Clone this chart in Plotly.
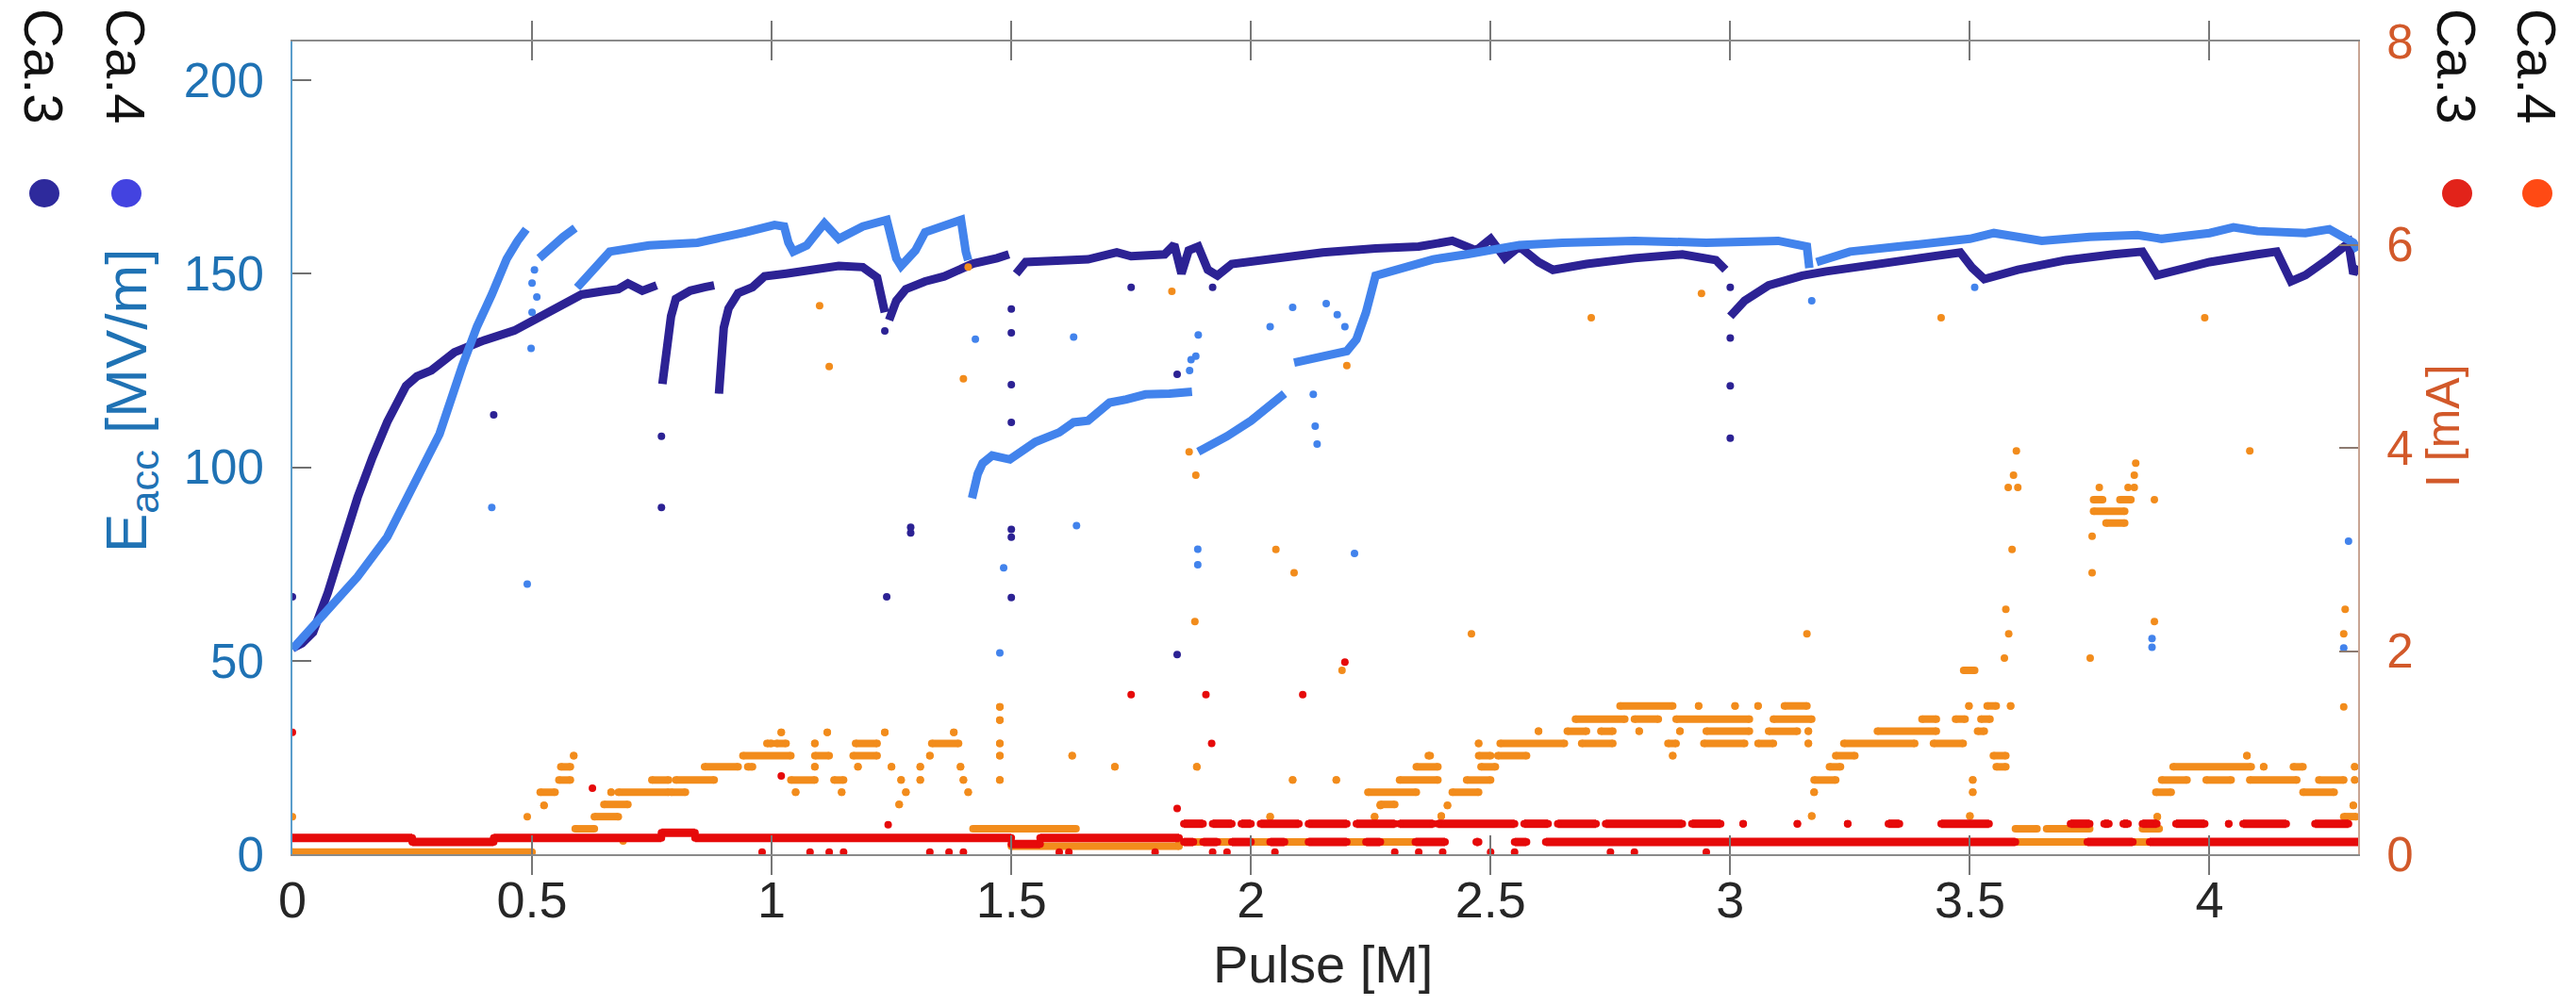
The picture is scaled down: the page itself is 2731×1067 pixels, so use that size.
import plotly.graph_objects as go

FONT = "Liberation Sans, Arial, sans-serif"
NARROW = "Liberation Sans Narrow, Arial Narrow, Liberation Sans, sans-serif"

# ---------------- axes ----------------
x_ticks = [0, 0.5, 1, 1.5, 2, 2.5, 3, 3.5, 4]
x_labels = ["0", "0.5", "1", "1.5", "2", "2.5", "3", "3.5", "4"]
e_ticks = [0, 50, 100, 150, 200]
i_ticks = [0, 2, 4, 6, 8]

# ---------------- Ca.3 E_acc [MV/m] (dark) : dense runs, None = break ----------------
e3_x = [0, 0.02, 0.043, 0.074, 0.105, 0.136, 0.167, 0.198, 0.237, 0.26, 0.29, 0.338, 0.40, 0.463, 0.525, 0.56, 0.603, 0.65, 0.68, 0.70, 0.73, 0.76, None,
        0.772, 0.78, 0.79, 0.80, 0.83, 0.86, 0.88, None,
        0.89, 0.895, 0.90, 0.91, 0.93, 0.96, 0.985, 1.03, 1.088, 1.14, 1.19, 1.22, 1.236, None,
        1.245, 1.26, 1.28, 1.32, 1.36, 1.42, 1.47, 1.495, None,
        1.51, 1.53, 1.66, 1.72, 1.75, 1.82, 1.84, 1.855, 1.87, 1.89, 1.91, 1.93, 1.96, 2.05, 2.15, 2.26, 2.35, 2.42, 2.47, 2.5, 2.53, 2.56, 2.6, 2.63, 2.7, 2.8, 2.9, 2.97, 2.99, None,
        3.0, 3.03, 3.08, 3.15, 3.2, 3.3, 3.4, 3.48, 3.505, 3.53, 3.6, 3.7, 3.8, 3.86, 3.89, 3.92, 4.0, 4.1, 4.14, 4.17, 4.2, 4.25, 4.29, 4.3, 4.31]
e3_y = [53.2, 54.5, 57.3, 67.6, 80, 92.2, 102.5, 111.7, 121, 123.5, 125, 129.7, 132.8, 135.3, 139.4, 141.5, 144.6, 145.5, 146, 147.5, 145.6, 147, None,
        121.5, 131, 139, 143.5, 145.6, 146.5, 147, None,
        119, 127, 136, 141, 145, 146.5, 149.3, 150, 151, 152, 151.7, 149, 140, None,
        138, 143, 146, 148, 149.3, 152.6, 154, 155, None,
        150, 153, 153.7, 155.5, 154.5, 155, 157.5, 150, 156, 157, 151, 149.5, 152.5, 154, 155.5, 156.5, 157, 158.5, 156, 159, 154, 157, 153, 151, 152.5, 154, 155, 153.5, 151, None,
        139, 143, 147, 149.5, 150.6, 152.5, 154, 155.5, 151.5, 148.6, 151, 153.5, 155, 155.7, 149.6, 150.6, 153, 155, 155.7, 148, 149.6, 154, 157.9, 150, 152]
# isolated Ca.3 points
e3o_x = [0, 0.42, 0.77, 0.77, 1.236, 1.24, 1.29, 1.29, 1.5, 1.5, 1.5, 1.5, 1.5, 1.5, 1.5, 1.75, 1.846, 1.846, 1.92, 3.0, 3.0, 3.0, 3.0]
e3o_y = [66.5, 113.5, 108, 89.6, 135.2, 66.5, 83, 84.5, 140.9, 134.7, 121.3, 111.6, 83.9, 81.9, 66.3, 146.5, 124, 51.6, 146.5, 146.5, 133.4, 121, 107.5]

# ---------------- Ca.4 E_acc [MV/m] (light) ----------------
e4_x = [0, 0.074, 0.136, 0.198, 0.245, 0.307, 0.354, 0.385, 0.416, 0.447, 0.47, 0.488, None,
        0.515, 0.54, 0.565, 0.59, None,
        0.594, 0.62, 0.644, 0.662, 0.744, 0.845, 0.945, 1.006, 1.026, 1.035, 1.045, 1.073, 1.10, 1.11, 1.14, 1.19, 1.24, 1.25, 1.26, 1.27, 1.30, 1.32, 1.38, 1.395, 1.405, 1.41, None,
        1.418, 1.425, 1.43, 1.44, 1.46, 1.497, 1.55, 1.6, 1.63, 1.66, 1.705, 1.74, 1.78, 1.83, 1.877, None,
        1.89, 1.95, 2.0, 2.05, 2.07, None,
        2.09, 2.15, 2.2, 2.22, 2.24, 2.26, 2.3, 2.38, 2.45, 2.56, 2.65, 2.8, 2.95, 3.1, 3.16, 3.165, None,
        3.18, 3.25, 3.35, 3.45, 3.5, 3.55, 3.65, 3.75, 3.85, 3.9, 4.0, 4.05, 4.1, 4.2, 4.25, 4.3, 4.31]
e4_y = [53, 63.5, 71.7, 82, 93.2, 108.6, 126, 136.3, 144.6, 153.8, 158.5, 161.5, None,
        154, 157, 159.5, 161.8, None,
        146.4, 150, 154, 155.7, 157.3, 158, 160.7, 162.6, 162.2, 158, 155.7, 157.3, 161.5, 163, 159, 162.2, 163.9, 159, 154, 152, 156, 160.7, 163.5, 163.9, 155.7, 153.5, None,
        92, 95.5, 98.3, 101, 103, 102, 106.5, 109, 111.6, 112, 116.7, 117.5, 118.8, 119, 119.5, None,
        104, 108, 112, 116.7, 119, None,
        127, 128.5, 130, 133, 140, 149.5, 151, 153.7, 155, 157.4, 158, 158.5, 158, 158.5, 157, 151.5, None,
        153, 155.7, 157, 158, 159, 160.5, 158.5, 159.5, 160, 159, 160.5, 162, 161, 160.5, 161.5, 158, 156]
e4o_x = [0.416, 0.49, 0.498, 0.50, 0.50, 0.505, 0.51, 1.425, 1.476, 1.484, 1.63, 1.636, 1.872, 1.875, 1.885, 1.89, 1.889, 1.889,
         2.04, 2.087, 2.134, 2.138, 2.13, 2.157, 2.18, 2.196, 2.216, 3.17, 3.51, 3.88, 3.88, 4.28, 4.29]
e4o_y = [89.6, 69.8, 130.7, 147.6, 140, 151, 144, 133.1, 52, 74, 133.6, 84.9, 125, 127.8, 128.7, 134.2, 78.8, 74.8,
         136.3, 141.3, 110.6, 106, 118.8, 142.3, 139.4, 136.3, 77.7, 143, 146.5, 55.7, 53.5, 53.3, 80.9]

# ---------------- Ca.3 current I [mA] (red): runs (x_start, x_end, level) ----------------
i3_runs = [(0, 0.25, 0.16), (0.25, 0.42, 0.12), (0.42, 0.77, 0.16), (0.77, 0.84, 0.21), (0.84, 1.5, 0.16), (1.5, 1.56, 0.10), (1.56, 1.85, 0.16),
           (1.86, 1.88, 0.12), (1.9, 1.93, 0.12), (1.96, 2.0, 0.12), (2.04, 2.07, 0.12), (2.12, 2.2, 0.12), (2.24, 2.27, 0.12),
           (2.343, 2.405, 0.12), (2.47, 2.475, 0.12), (2.55, 2.575, 0.12), (2.615, 3.595, 0.12), (3.745, 3.84, 0.12), (3.875, 4.31, 0.12),
           (1.86, 1.9, 0.3), (1.92, 1.96, 0.3), (1.98, 2.0, 0.3), (2.02, 2.1, 0.3), (2.12, 2.2, 0.3), (2.22, 2.3, 0.3), (2.31, 2.38, 0.3),
           (2.39, 2.55, 0.3), (2.57, 2.62, 0.3), (2.64, 2.72, 0.3), (2.74, 2.9, 0.3), (2.92, 2.98, 0.3), (3.027, 3.027, 0.3),
           (3.14, 3.14, 0.3), (3.245, 3.245, 0.3), (3.33, 3.353, 0.3), (3.44, 3.54, 0.3), (3.71, 3.75, 0.3), (3.78, 3.79, 0.3),
           (3.82, 3.83, 0.3), (3.86, 3.89, 0.3), (3.93, 3.99, 0.3), (4.04, 4.04, 0.3), (4.07, 4.16, 0.3), (4.22, 4.29, 0.3)]
i3o_x = [0, 0.626, 1.02, 1.243, 1.75, 1.906, 2.108, 2.196, 1.918, 1.846,
         0.98, 1.08, 1.12, 1.15, 1.33, 1.37, 1.4, 1.6, 1.62, 1.8, 1.92, 1.95, 2.05, 2.3, 2.35, 2.4, 2.5, 2.55, 2.75, 2.8, 2.95]
i3o_y = [1.2, 0.65, 0.77, 0.29, 1.57, 1.57, 1.57, 1.89, 1.09, 0.45,
         0.02, 0.02, 0.02, 0.02, 0.02, 0.02, 0.02, 0.02, 0.02, 0.02, 0.02, 0.02, 0.02, 0.02, 0.02, 0.02, 0.02, 0.02, 0.02, 0.02, 0.02]

# ---------------- Ca.4 current I [mA] (orange): runs (x_start, x_end, level) ----------------
i4_runs = [(0.0, 0.5, 0.02),
           (0.517, 0.548, 0.61), (0.525, 0.525, 0.48), (0.556, 0.58, 0.73), (0.56, 0.58, 0.86), (0.587, 0.587, 0.97),
           (0.59, 0.63, 0.25), (0.63, 0.68, 0.37), (0.65, 0.70, 0.49), (0.665, 0.665, 0.61), (0.68, 0.785, 0.61), (0.79, 0.82, 0.61),
           (0.75, 0.785, 0.73), (0.8, 0.88, 0.73), (0.86, 0.93, 0.86), (0.95, 0.96, 0.86), (0.94, 1.04, 0.97), (0.99, 1.0, 1.09),
           (1.01, 1.03, 1.09), (1.02, 1.02, 1.2), (1.04, 1.09, 0.73), (1.05, 1.05, 0.61), (1.09, 1.12, 0.97), (1.09, 1.09, 1.09),
           (1.116, 1.116, 1.2), (1.09, 1.09, 0.86), (1.13, 1.15, 0.73), (1.146, 1.146, 0.61), (1.175, 1.22, 1.09), (1.17, 1.22, 0.97),
           (1.18, 1.18, 0.86), (1.236, 1.236, 1.2), (1.25, 1.25, 0.86), (1.27, 1.27, 0.73), (1.31, 1.31, 0.73), (1.28, 1.28, 0.61),
           (1.266, 1.266, 0.49), (1.31, 1.31, 0.86), (1.33, 1.33, 0.97), (1.334, 1.39, 1.09), (1.38, 1.38, 1.2), (1.394, 1.394, 0.86),
           (1.40, 1.40, 0.73), (1.41, 1.41, 0.61),
           (1.476, 1.476, 1.45), (1.476, 1.476, 1.32), (1.476, 1.476, 1.09), (1.476, 1.476, 0.97), (1.476, 1.476, 0.73),
           (1.42, 1.635, 0.25), (1.5, 1.85, 0.08), (1.85, 2.34, 0.12),
           (1.627, 1.627, 0.97), (1.716, 1.716, 0.86), (1.887, 1.887, 0.86), (2.087, 2.087, 0.73), (2.178, 2.178, 0.73),
           (2.04, 2.04, 0.37), (2.258, 2.258, 0.37), (2.27, 2.27, 0.48),
           (2.244, 2.345, 0.61), (2.27, 2.3, 0.49), (2.31, 2.39, 0.73), (2.345, 2.39, 0.86), (2.37, 2.374, 0.97),
           (2.397, 2.397, 0.375), (2.41, 2.41, 0.48), (2.42, 2.475, 0.61), (2.45, 2.5, 0.73), (2.48, 2.51, 0.86), (2.475, 2.5, 0.97),
           (2.515, 2.575, 0.97), (2.475, 2.475, 1.09), (2.52, 2.654, 1.09), (2.6, 2.6, 1.21), (2.66, 2.7, 1.21), (2.69, 2.755, 1.09),
           (2.677, 2.78, 1.33), (2.73, 2.755, 1.21), (2.77, 2.88, 1.46), (2.8, 2.85, 1.33), (2.81, 2.81, 1.21), (2.87, 2.887, 1.09),
           (2.88, 2.88, 0.97), (2.887, 3.04, 1.33), (2.895, 2.895, 1.21), (2.95, 3.04, 1.21), (2.934, 2.934, 1.46), (3.01, 3.01, 1.46),
           (3.058, 3.058, 1.46), (2.945, 3.03, 1.09), (3.058, 3.09, 1.09), (3.09, 3.17, 1.33), (3.08, 3.14, 1.21), (3.113, 3.16, 1.46),
           (3.163, 3.163, 1.09), (3.163, 3.163, 1.21),
           (3.17, 3.17, 0.375), (3.175, 3.175, 0.61), (3.175, 3.22, 0.73), (3.207, 3.23, 0.86), (3.22, 3.26, 0.97), (3.237, 3.385, 1.09),
           (3.307, 3.43, 1.21), (3.4, 3.43, 1.33), (3.424, 3.486, 1.09), (3.47, 3.49, 1.33), (3.498, 3.498, 1.46), (3.506, 3.506, 0.73),
           (3.506, 3.506, 0.61), (3.5, 3.5, 0.375), (3.516, 3.53, 1.21), (3.523, 3.542, 1.33), (3.536, 3.555, 1.46), (3.549, 3.575, 0.97),
           (3.555, 3.575, 0.86), (3.585, 3.585, 1.46), (3.487, 3.51, 1.81),
           (3.595, 3.64, 0.25), (3.66, 3.75, 0.25), (3.86, 3.895, 0.25), (3.891, 3.891, 0.37), (3.595, 3.745, 0.12), (3.84, 3.875, 0.12),
           (3.888, 3.92, 0.61), (3.9, 3.953, 0.73), (3.924, 4.087, 0.86), (3.993, 4.045, 0.73), (4.084, 4.182, 0.73), (4.078, 4.078, 0.97),
           (4.113, 4.113, 0.86), (4.175, 4.195, 0.86), (4.195, 4.26, 0.61), (4.228, 4.28, 0.73), (4.303, 4.303, 0.86), (4.303, 4.303, 0.73),
           (4.3, 4.3, 0.48), (4.28, 4.306, 0.37),
           (3.758, 3.823, 3.375), (3.784, 3.823, 3.26), (3.758, 3.777, 3.49), (3.813, 3.836, 3.49)]
i4o_x = [0, 0.49, 1.10, 1.12, 1.41, 1.40, 1.835, 1.871, 1.885, 1.883, 2.052, 2.09, 2.2, 2.19, 2.46, 3.16, 2.71, 2.94, 3.44, 3.99,
         4.084, 3.597, 3.591, 3.58, 3.6, 3.588, 3.575, 3.581, 3.572, 3.77, 3.755, 3.846, 3.843, 3.83, 3.843, 3.755, 3.751,
         3.885, 3.885, 4.283, 4.28, 4.28, 0.69]
i4o_y = [0.37, 0.37, 5.4, 4.8, 5.78, 4.68, 5.54, 3.96, 3.73, 2.29, 3.0, 2.77, 4.81, 1.81, 2.17, 2.17, 5.28, 5.52, 5.28, 5.28,
         3.97, 3.97, 3.73, 3.61, 3.61, 3.0, 2.41, 2.17, 1.93, 3.61, 3.13, 3.85, 3.73, 3.61, 3.61, 2.77, 1.93,
         3.49, 2.29, 2.41, 2.17, 1.45, 0.13]

# ---------------- legend ----------------
legend_names = ["Ca.3", "Ca.4"]
legend_left_colors = ["#2E2A9C", "#4343E0"]
legend_right_colors = ["#E2231A", "#FF4A14"]

# ---------------- colours ----------------
C_E3, C_E4 = "#2C2294", "#4283EC"
C_I3, C_I4 = "#E60A0A", "#F28C1C"
C_LEFT, C_RIGHT = "#1F72B4", "#D2592A"

for a, b in [(e3_x, e3_y), (e3o_x, e3o_y), (e4_x, e4_y), (e4o_x, e4o_y), (i3o_x, i3o_y), (i4o_x, i4o_y)]:
    assert len(a) == len(b)


def runs_to_xy(runs):
    xs, ys = [], []
    for a, b, lvl in runs:
        xs += [a, b, None]
        ys += [lvl, lvl, None]
    return xs, ys


W, H = 2731, 1067
L, R, T, B = 310, 231, 44, 161
PW, PH = W - L - R, H - T - B


def px(X):
    return (X - L) / PW


def py(Y):
    return (H - B - Y) / PH


fig = go.Figure()

# E traces (left axis)
fig.add_trace(go.Scatter(x=e3_x, y=e3_y, mode="lines", line=dict(color=C_E3, width=9), connectgaps=False, yaxis="y"))
fig.add_trace(go.Scatter(x=e3o_x, y=e3o_y, mode="markers", marker=dict(color=C_E3, size=8), yaxis="y"))
fig.add_trace(go.Scatter(x=e4_x, y=e4_y, mode="lines", line=dict(color=C_E4, width=9), connectgaps=False, yaxis="y"))
fig.add_trace(go.Scatter(x=e4o_x, y=e4o_y, mode="markers", marker=dict(color=C_E4, size=8), yaxis="y"))

# current traces (right axis)
ox, oy = runs_to_xy(i4_runs)
fig.add_trace(go.Scatter(x=ox, y=oy, mode="lines+markers", line=dict(color=C_I4, width=8),
                         marker=dict(color=C_I4, size=8), connectgaps=False, yaxis="y2"))
fig.add_trace(go.Scatter(x=i4o_x, y=i4o_y, mode="markers", marker=dict(color=C_I4, size=8), yaxis="y2"))
rx, ry = runs_to_xy(i3_runs)
fig.add_trace(go.Scatter(x=rx, y=ry, mode="lines+markers", line=dict(color=C_I3, width=9),
                         marker=dict(color=C_I3, size=8), connectgaps=False, yaxis="y2"))
fig.add_trace(go.Scatter(x=i3o_x, y=i3o_y, mode="markers", marker=dict(color=C_I3, size=8), yaxis="y2"))

annotations = [
    dict(text="E<sub>acc</sub> [MV/m]", x=px(138), y=py(425), xref="paper", yref="paper", showarrow=False,
         textangle=-90, font=dict(family=FONT, size=62, color=C_LEFT), xanchor="center", yanchor="middle"),
    dict(text="I [mA]", x=px(2590), y=py(452), xref="paper", yref="paper", showarrow=False,
         textangle=-90, font=dict(family=NARROW, size=50, color=C_RIGHT), xanchor="center", yanchor="middle"),
    dict(text="Pulse [M]", x=px(1402), y=py(1022), xref="paper", yref="paper", showarrow=False,
         font=dict(family=FONT, size=56, color="#262626"), xanchor="center", yanchor="middle"),
]
shapes = []
legend_left_x = [47, 134]
legend_right_x = [2605, 2690]
for name, X, col in zip(legend_names, legend_left_x, legend_left_colors):
    annotations.append(dict(text=name, x=px(X), y=py(70), xref="paper", yref="paper", showarrow=False, textangle=90,
                            font=dict(family=NARROW, size=58, color="#111111"), xanchor="center", yanchor="middle"))
    shapes.append(dict(type="circle", xref="paper", yref="paper", xsizemode="pixel", ysizemode="pixel",
                       xanchor=px(X), yanchor=py(205), x0=-16, x1=16, y0=-15, y1=15,
                       fillcolor=col, line=dict(width=0)))
for name, X, col in zip(legend_names, legend_right_x, legend_right_colors):
    annotations.append(dict(text=name, x=px(X), y=py(70), xref="paper", yref="paper", showarrow=False, textangle=90,
                            font=dict(family=NARROW, size=58, color="#111111"), xanchor="center", yanchor="middle"))
    shapes.append(dict(type="circle", xref="paper", yref="paper", xsizemode="pixel", ysizemode="pixel",
                       xanchor=px(X), yanchor=py(205), x0=-16, x1=16, y0=-15, y1=15,
                       fillcolor=col, line=dict(width=0)))

fig.update_layout(
    width=W, height=H,
    margin=dict(l=L, r=R, t=T, b=B, pad=0),
    paper_bgcolor="white", plot_bgcolor="white",
    showlegend=False,
    font=dict(family=FONT),
    xaxis=dict(range=[0, 4.31], tickvals=x_ticks, ticktext=x_labels, ticks="inside", ticklen=20, tickwidth=2,
               tickcolor="#777777", showline=True, linecolor="#8A8A8A", linewidth=2, mirror="allticks",
               showgrid=False, zeroline=False, tickfont=dict(family=FONT, size=54, color="#262626"),
               ticklabelstandoff=0),
    yaxis=dict(range=[0, 210], tickvals=e_ticks, ticks="inside", ticklen=20, tickwidth=2, tickcolor="#707070",
               showline=True, linecolor="#5A9DCB", linewidth=2, showgrid=False, zeroline=False,
               tickfont=dict(family=FONT, size=51, color=C_LEFT), ticklabelstandoff=18),
    yaxis2=dict(range=[0, 8], tickvals=i_ticks, overlaying="y", side="right", ticks="inside", ticklen=20, tickwidth=2,
                tickcolor="#8C7A70", showline=True, linecolor="#C9A593", linewidth=2, showgrid=False, zeroline=False,
                tickfont=dict(family=FONT, size=51, color=C_RIGHT), ticklabelstandoff=18),
    annotations=annotations,
    shapes=shapes,
)

fig.write_html("out.html")
